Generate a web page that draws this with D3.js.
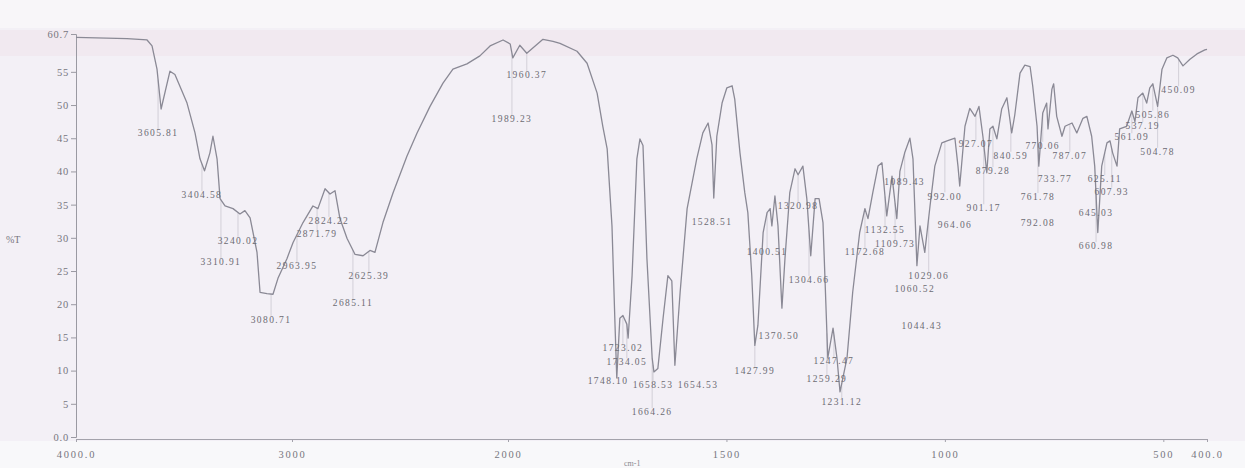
<!DOCTYPE html>
<html>
<head>
<meta charset="utf-8">
<script src="https://cdn.jsdelivr.net/npm/d3@7"></script>
<style>
  body { margin: 0; background: #f3f0f6; }
  svg { display: block; }
  .tick text { font-family: "Liberation Serif", serif; fill: #77767e; }
  .peak { font-family: "Liberation Serif", serif; font-size: 9.5px; fill: #6c6b73; letter-spacing: 1.4px; }
</style>
</head>
<body>
<svg width="1245" height="468"></svg>
<script>
// spectrum (wavenumber cm-1, %T)
var wavenumbers = [4000,3764,3671,3648,3625,3606,3565,3542,3486,3449,
    3426,3405,3380,3366,3347,3333,3310,3273,3241,3218,
    3194,3162,3148,3116,3088,3065,3023,2995,2949,2903,
    2880,2847,2824,2801,2778,2745,2708,2671,2639,2616,
    2579,2532,2468,2421,2361,2301,2255,2190,2130,2083,
    2023,1995,1989,1973,1957,1920,1897,1881,1842,1819,
    1796,1783,1773,1762,1755,1751,1744,1737,1728,1725,
    1716,1705,1698,1691,1682,1670,1666,1657,1645,1634,
    1625,1618,1606,1590,1568,1554,1542,1533,1529,1522,
    1510,1499,1487,1481,1469,1458,1451,1442,1435,1428,
    1416,1407,1400,1396,1389,1382,1373,1366,1355,1343,
    1336,1325,1316,1307,1297,1288,1279,1268,1256,1247,
    1240,1224,1211,1195,1183,1176,1165,1153,1144,1133,
    1121,1110,1103,1092,1080,1073,1064,1057,1046,1034,
    1023,1007,995,977,970,966,954,943,931,922,
    913,904,897,890,881,870,858,847,840,828,
    817,805,799,789,785,776,767,764,755,751,
    744,732,725,709,698,684,675,664,657,650,
    641,629,622,616,606,600,584,572,565,558,
    547,538,531,524,513,503,492,478,467,455,
    439,423,405,400];

var transmittance = [60.2,60.0,59.8,58.9,55.4,49.4,55.1,54.6,50.3,45.8,
    41.9,40.1,42.8,45.3,41.9,35.9,34.8,34.4,33.6,34.1,
    33.0,27.8,21.8,21.6,21.5,23.9,26.9,29.3,32.3,34.8,
    34.4,37.4,36.6,37.1,32.9,29.9,27.5,27.3,28.1,27.8,
    32.3,36.8,42.3,45.8,49.8,53.3,55.4,56.2,57.4,58.9,
    59.8,59.2,57.1,59.0,57.8,59.9,59.6,59.3,58.1,56.3,
    51.8,46.8,43.4,31.8,16.8,8.9,17.9,18.3,17.0,14.9,
    24.3,41.9,44.9,43.9,26.9,11.9,9.8,10.3,17.9,24.3,
    23.5,10.8,21.8,34.4,41.9,45.8,47.3,44.0,36.0,45.3,
    50.3,52.6,52.9,50.9,42.8,36.8,33.8,24.3,13.8,16.8,
    30.8,33.8,34.4,31.8,36.3,31.8,19.4,26.9,36.8,40.4,
    39.5,40.8,35.9,27.3,35.9,35.9,32.3,11.9,16.4,11.9,
    6.8,11.9,21.8,30.8,34.4,32.9,36.8,40.8,41.3,33.3,
    39.3,32.9,40.0,42.8,45.0,41.9,25.8,31.8,27.8,34.8,
    40.8,44.3,44.6,45.0,40.8,37.8,46.8,49.5,48.3,49.8,
    45.3,39.8,46.4,46.8,44.9,49.4,51.1,45.8,48.5,54.8,
    56.0,55.8,52.9,46.8,40.8,48.8,50.3,46.4,52.4,53.2,
    48.3,45.3,46.8,47.3,45.8,48.0,48.3,45.3,40.8,30.8,
    40.8,44.3,44.6,42.8,40.8,46.4,46.8,49.1,47.5,51.1,
    51.8,50.3,52.6,53.2,49.8,55.4,57.1,57.5,57.1,55.9,
    56.9,57.7,58.3,58.4];

// peak annotations: text, where it sits (cm-1), level (%T)
var peakText = ["3605.81","3404.58","3240.02","3310.91","3080.71","2963.95","2871.79","2824.22","2625.39","2685.11",
    "1960.37","1989.23","1723.02","1734.05","1748.10","1658.53","1654.53","1664.26","1528.51","1400.51",
    "1320.98","1304.66","1370.50","1427.99","1247.47","1259.29","1231.12","1172.68","1132.55","1109.73",
    "1089.43","1029.06","1060.52","1044.43","992.00","964.06","927.07","840.59","879.28","901.17",
    "770.06","787.07","733.77","625.11","761.78","607.93","792.08","645.03","660.98","450.09",
    "505.86","537.19","561.09","504.78"];
var peakAt = [3620,3417,3250,3329,3097,2977,2884,2829,2644,2718,
    1957,1991,1737,1728,1771,1668,1565,1670,1533,1407,
    1336,1311,1380,1435,1254,1270,1236,1183,1137,1114,
    1092,1037,1069,1053,1000,977,929,849,890,911,
    776,714,748,634,787,618,787,654,654,465,
    524,547,572,513];
var peakLevel = [45.6,36.3,29.4,26.2,17.5,25.6,30.4,32.4,24.1,20.0,
    54.4,47.7,13.3,11.1,8.3,7.7,7.7,3.6,32.2,27.7,
    34.6,23.5,15.1,9.8,11.3,8.6,5.1,27.7,31.0,28.9,
    38.3,24.1,22.1,16.6,36.1,31.8,44.0,42.2,39.9,34.3,
    43.7,42.2,38.7,38.7,36.0,36.8,32.1,33.6,28.6,52.1,
    48.4,46.7,45.0,42.8];

var yTicks = [60.7, 55, 50, 45, 40, 35, 30, 25, 20, 15, 10, 5, 0];
var yTickLabels = ["60.7","55","50","45","40","35","30","25","20","15","10","5","0.0"];
var xTicks = [4000, 3000, 2000, 1500, 1000, 500, 400];
var xTickLabels = ["4000.0","3000","2000","1500","1000","500","400.0"];

var spectrum = wavenumbers.map(function(w, i) {
    return { w: w, t: transmittance[i] };
});

// scan has the usual IR scale change at 2000
var x = d3.scaleLinear().domain([4000, 2000, 400]).range([76, 508, 1207]);
var y = d3.scaleLinear().domain([0, 60.7]).range([437, 34]);

var svg = d3.select("svg");

// paper tint
svg.append("rect").attr("x", 0).attr("y", 0).attr("width", 1245).attr("height", 28).attr("fill", "#f8f6f9");
svg.append("rect").attr("x", 0).attr("y", 30).attr("width", 1245).attr("height", 26).attr("fill", "#f1e9f0");
svg.append("rect").attr("x", 0).attr("y", 441).attr("width", 1245).attr("height", 27).attr("fill", "#f8f8fa");

// Y axis
var yAxis = d3.axisLeft(y).tickValues(yTicks).tickSize(5).tickPadding(2)
    .tickFormat(function(d, i) { return yTickLabels[i]; });
var gy = svg.append("g").attr("transform", "translate(76,0)").call(yAxis);
gy.selectAll("text").style("font-size", "10.5px").style("letter-spacing", "0.8px");
gy.selectAll("line, path").attr("stroke", "#9a99a2");

svg.append("text")
    .attr("x", 6).attr("y", 243)
    .style("font-family", "Liberation Serif, serif").style("font-size", "10px")
    .attr("fill", "#77767e")
    .text("%T");

// X axis
var xAxis = d3.axisBottom(x).tickValues(xTicks).tickSize(3).tickPadding(9)
    .tickFormat(function(d, i) { return xTickLabels[i]; });
var gx = svg.append("g").attr("transform", "translate(0,439)").call(xAxis);
gx.selectAll("text").style("font-size", "10.5px").style("letter-spacing", "1.8px");
gx.selectAll("line, path").attr("stroke", "#a3a2ab");

svg.append("text")
    .attr("x", 624).attr("y", 466)
    .style("font-family", "Liberation Serif, serif").style("font-size", "8px")
    .attr("fill", "#8a8990")
    .text("cm-1");

// leader lines from the trace down to each label (short ones only)
var bisect = d3.bisector(function(d) { return -d.w; }).left;
function traceAt(w) {
    var i = bisect(spectrum, -w);
    if (i <= 0) return spectrum[0].t;
    if (i >= spectrum.length) return spectrum[spectrum.length - 1].t;
    var a = spectrum[i - 1], b = spectrum[i];
    return a.t + (b.t - a.t) * (a.w - w) / (a.w - b.w);
}

var leaders = peakAt.map(function(w, i) {
    var y1 = y(traceAt(w));
    var y2 = Math.max(y(peakLevel[i]) - 5, y1);
    return { x: x(w), y1: y1, y2: y2 };
}).filter(function(d) { return d.y2 - d.y1 < 70; });

svg.append("g")
    .selectAll("line")
    .data(leaders)
    .enter()
        .append("line")
        .attr("x1", function(d) { return d.x; })
        .attr("x2", function(d) { return d.x; })
        .attr("y1", function(d) { return d.y1; })
        .attr("y2", function(d) { return d.y2; })
        .attr("stroke", "#c4c2cb")
        .attr("stroke-width", 0.7);

// trace
var line = d3.line()
    .x(function(d) { return x(d.w); })
    .y(function(d) { return y(d.t); });

svg.append("path")
    .datum(spectrum)
    .attr("d", line)
    .attr("fill", "none")
    .attr("stroke", "#8a8995")
    .attr("stroke-width", 1.3)
    .attr("stroke-linejoin", "round");

// peak labels
svg.append("g")
    .selectAll("text")
    .data(peakText)
    .enter()
        .append("text")
        .attr("class", "peak")
        .attr("x", function(d, i) { return x(peakAt[i]); })
        .attr("y", function(d, i) { return y(peakLevel[i]); })
        .attr("text-anchor", "middle")
        .attr("dominant-baseline", "middle")
        .text(function(d) { return d; });
</script>
</body>
</html>
